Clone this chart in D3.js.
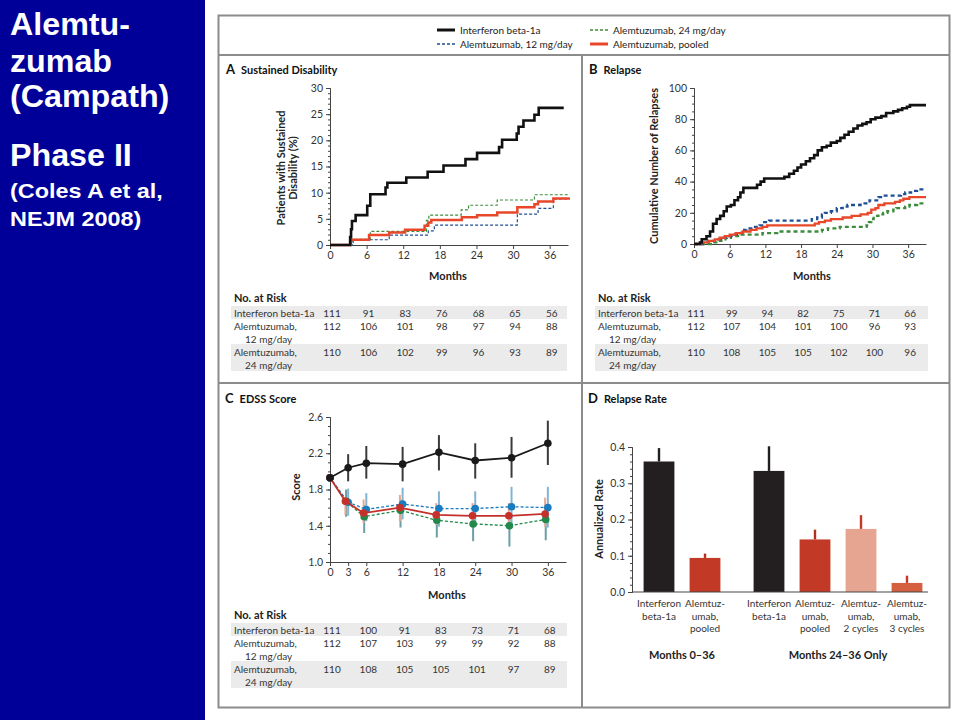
<!DOCTYPE html>
<html>
<head>
<meta charset="utf-8">
<script src="https://cdn.jsdelivr.net/npm/d3@7"></script>
<style>
body { margin: 0; background: #fff; }
svg { display: block; }
</style>
</head>
<body>
<div id="vis"></div>
<script>
// ---------- data ----------
const SERIES_NAMES = ["Interferon beta-1a", "Alemtuzumab, 12 mg/day", "Alemtuzumab, 24 mg/day", "Alemtuzumab, pooled"];
const MONTH_TICKS = [0, 6, 12, 18, 24, 30, 36];

// A: sustained disability, Kaplan-Meier steps [month, %]
const DIS_IFN = [[0,0],[3.3,1.5],[3.45,3.0],[3.6,4.6],[4.2,5.7],[6.1,7.5],[6.6,9.7],[9.1,11.0],[9.4,11.9],[12.5,12.9],[16.0,14.0],[18.6,15.2],[22.2,16.4],[24.1,17.6],[27.7,18.7],[28.2,20.1],[30.6,21.3],[30.9,22.6],[31.7,23.8],[33.5,24.9],[34.2,26.2],[38.3,26.2]];
const DIS_12 = [[0,0],[3.8,1.0],[9.7,1.9],[16.1,2.7],[17.1,3.8],[30.7,5.9],[34.1,7.0],[36.6,8.8],[39.3,8.8]];
const DIS_24 = [[0,0],[3.6,1.1],[6.6,2.6],[15.8,4.7],[16.2,5.7],[21.5,6.7],[22.7,7.6],[27.4,8.6],[33.5,9.6],[39.3,9.6]];
const DIS_POOLED = [[0,0],[3.4,1.0],[6.4,1.9],[9.7,2.4],[12.3,2.9],[15.5,3.7],[16.1,4.3],[16.6,4.8],[21.6,5.3],[24.1,5.7],[27.4,6.2],[30.7,7.2],[33.5,7.8],[34.1,8.3],[36.6,8.9],[39.3,8.9]];

// B: cumulative number of relapses [month, count]
const REL_IFN = [[0,0],[1.0,1],[1.3,3],[2.1,5],[2.7,8],[3.2,13],[3.8,16],[4.4,18],[5.0,21],[5.5,24],[6.2,25],[6.8,28],[7.4,30],[7.8,33],[8.3,36],[10.6,38],[11.2,40],[11.8,42],[15.2,43],[16.0,45],[16.8,47],[17.4,49],[18.0,51],[18.8,53],[19.5,55],[20.2,57],[20.8,60],[21.5,62],[22.3,63],[23.0,65],[24.0,66],[24.6,68],[25.3,70],[26.0,72],[26.8,74],[27.5,76],[28.3,77],[29.0,78],[29.7,80],[30.5,81],[31.5,82],[32.3,84],[33.5,85],[34.3,86],[35.0,87],[35.8,88],[36.3,89],[39.0,89]];
const REL_12 = [[0,0],[1.5,1],[2.5,2],[3.5,3],[4.5,4],[5.5,5],[6.3,6],[7.2,7],[8.0,9],[8.8,10],[10.0,11],[11.0,12],[11.8,14],[12.6,15],[19.8,16],[20.7,17],[21.5,19],[22.0,20],[23.0,21],[24.0,23],[25.0,24],[25.8,25],[28.0,26],[29.5,28],[31.0,30],[31.8,31],[34.8,32],[35.5,33],[36.5,34],[37.5,35],[39.0,35]];
const REL_24 = [[0,0],[3.4,1],[4.0,2],[4.6,3],[5.3,4],[6.2,5],[7.8,6],[11.5,7],[14.0,8],[21.5,9],[22.5,10],[24.5,11],[29.0,12],[29.4,14],[29.8,16],[30.2,18],[31.0,19],[31.8,20],[32.5,21],[33.5,22],[34.0,23],[35.5,24],[36.2,25],[37.5,26],[39.0,26]];
const REL_POOLED = [[0,0],[1.2,1],[2.5,2],[3.5,3],[4.3,4],[5.2,5],[6.0,6],[7.0,7],[8.2,8],[9.5,9],[10.5,10],[11.5,11],[12.3,12],[20.3,13],[21.0,14],[22.0,15],[23.0,16],[25.0,17],[26.5,18],[28.0,19],[29.2,20],[29.8,22],[30.5,23],[31.0,25],[32.0,26],[33.8,27],[34.6,28],[35.2,29],[36.2,30],[39.0,30]];

// numbers at risk
const RISK_LABELS = [["Interferon beta-1a"], ["Alemtuzumab,", "12 mg/day"], ["Alemtuzumab,", "24 mg/day"]];
const RISK_A_IFN = [111, 91, 83, 76, 68, 65, 56];
const RISK_A_12 = [112, 106, 101, 98, 97, 94, 88];
const RISK_A_24 = [110, 106, 102, 99, 96, 93, 89];
const RISK_B_IFN = [111, 99, 94, 82, 75, 71, 66];
const RISK_B_12 = [112, 107, 104, 101, 100, 96, 93];
const RISK_B_24 = [110, 108, 105, 105, 102, 100, 96];
const RISK_C_IFN = [111, 100, 91, 83, 73, 71, 68];
const RISK_C_12 = [112, 107, 103, 99, 99, 92, 88];
const RISK_C_24 = [110, 108, 105, 105, 101, 97, 89];

// C: EDSS score, mean with error bars
const EDSS_MONTHS = [0, 3, 6, 12, 18, 24, 30, 36];
const EDSS_TICKS = [0, 3, 6, 12, 18, 24, 30, 36];
const EDSS_IFN = [1.93, 2.04, 2.09, 2.08, 2.21, 2.12, 2.15, 2.31];
const EDSS_IFN_LO = [null, 1.89, 1.92, 1.89, 2.01, 1.92, 1.93, 2.07];
const EDSS_IFN_HI = [null, 2.19, 2.28, 2.27, 2.40, 2.31, 2.38, 2.56];
const EDSS_12 = [1.93, 1.66, 1.58, 1.64, 1.59, 1.59, 1.61, 1.60];
const EDSS_12_LO = [null, 1.51, 1.45, 1.47, 1.39, 1.39, 1.40, 1.38];
const EDSS_12_HI = [null, 1.81, 1.76, 1.82, 1.78, 1.78, 1.83, 1.83];
const EDSS_24 = [1.93, 1.67, 1.50, 1.57, 1.46, 1.42, 1.40, 1.47];
const EDSS_24_LO = [null, 1.50, 1.32, 1.38, 1.27, 1.23, 1.17, 1.24];
const EDSS_24_HI = [null, 1.80, 1.63, 1.69, 1.54, 1.50, 1.50, 1.56];
const EDSS_POOLED = [1.93, 1.67, 1.54, 1.60, 1.52, 1.51, 1.51, 1.53];
const EDSS_POOLED_LO = [null, 1.52, 1.43, 1.45, 1.41, 1.41, 1.41, 1.39];
const EDSS_POOLED_HI = [null, 1.72, 1.69, 1.74, 1.65, 1.65, 1.65, 1.71];

// D: annualized relapse rate
const BAR_KEYS = ["ifn0", "pooled0", "ifn24", "pooled24", "cyc2", "cyc3"];
const BAR_LABELS = [["Interferon", "beta-1a"], ["Alemtuz-", "umab,", "pooled"], ["Interferon", "beta-1a"], ["Alemtuz-", "umab,", "pooled"], ["Alemtuz-", "umab,", "2 cycles"], ["Alemtuz-", "umab,", "3 cycles"]];
const BAR_GROUPS = ["Months 0\u201336", "Months 0\u201336", "Months 24\u201336 Only", "Months 24\u201336 Only", "Months 24\u201336 Only", "Months 24\u201336 Only"];
const BAR_RATES = [0.36, 0.094, 0.334, 0.145, 0.174, 0.025];
const BAR_UPPER = [0.397, 0.106, 0.402, 0.172, 0.212, 0.045];
const RATE_TICKS = [0.0, 0.1, 0.2, 0.3, 0.4];

// sidebar text
const SIDE_BIG = ["Alemtu-", "zumab", "(Campath)", "Phase II"];
const SIDE_SMALL = ["(Coles A et al,", "NEJM 2008)"];

// ---------- styles ----------
const FONT = "Lato, 'Open Sans', sans-serif";
const C_IFN = "#111111", C_12 = "#1f4f94", C_24 = "#3c8c3c", C_POOL = "#e8472a";
const GRID = "#8c8c8c";

const SVG = d3.select("#vis").append("svg")
    .attr("width", 960)
    .attr("height", 720)
    .attr("font-family", FONT);

// sidebar
SVG.append("rect").attr("x", 0).attr("y", 0).attr("width", 205).attr("height", 720).attr("fill", "#000099");
SVG.selectAll("text.big").data(SIDE_BIG).enter().append("text")
    .attr("transform", (d, i) => "translate(10," + [35, 72, 107, 166][i] + ") scale(1.04,1)")
    .attr("fill", "#fff").attr("font-family", "'Liberation Sans', Arial, sans-serif")
    .attr("font-weight", "bold").attr("font-size", "31px").text(d => d);
SVG.selectAll("text.small").data(SIDE_SMALL).enter().append("text")
    .attr("transform", (d, i) => "translate(10," + [198, 226][i] + ") scale(1.2,1)")
    .attr("fill", "#fff").attr("font-family", "'Liberation Sans', Arial, sans-serif")
    .attr("font-weight", "bold").attr("font-size", "19.5px").text(d => d);

// figure frame
SVG.append("rect").attr("x", 218.5).attr("y", 15.5).attr("width", 731).attr("height", 692)
    .attr("fill", "#fff").attr("stroke", GRID).attr("stroke-width", 2);
SVG.append("line").attr("x1", 218).attr("x2", 950).attr("y1", 55).attr("y2", 55).attr("stroke", GRID).attr("stroke-width", 2);
SVG.append("line").attr("x1", 218).attr("x2", 950).attr("y1", 383).attr("y2", 383).attr("stroke", GRID).attr("stroke-width", 2);
SVG.append("line").attr("x1", 582).attr("x2", 582).attr("y1", 55).attr("y2", 708).attr("stroke", GRID).attr("stroke-width", 2);

// legend
const LEG = [
    { name: SERIES_NAMES[0], x: 437, y: 30, color: C_IFN, w: 3, dash: null },
    { name: SERIES_NAMES[1], x: 437, y: 44, color: C_12, w: 1.3, dash: "3,2" },
    { name: SERIES_NAMES[2], x: 590, y: 30, color: C_24, w: 1.3, dash: "3,2" },
    { name: SERIES_NAMES[3], x: 590, y: 44, color: C_POOL, w: 3, dash: null }
];
LEG.forEach(l => {
    SVG.append("line").attr("x1", l.x).attr("x2", l.x + 18).attr("y1", l.y).attr("y2", l.y)
        .attr("stroke", l.color).attr("stroke-width", l.w).attr("stroke-dasharray", l.dash);
    SVG.append("text").attr("x", l.x + 23).attr("y", l.y + 3.5).attr("font-size", "10px")
        .attr("fill", "#222").text(l.name);
});

function panelTitle(x, y, letter, title) {
    const t = SVG.append("text").attr("x", x).attr("y", y).attr("fill", "#111");
    t.append("tspan").attr("font-size", "13px").attr("font-weight", "bold").text(letter);
    t.append("tspan").attr("dx", 6).attr("font-size", "11px").attr("font-weight", "bold").text(title);
}

function styleAxis(g) {
    g.selectAll("path").attr("stroke", "#444");
    g.selectAll("line").attr("stroke", "#444");
    g.selectAll("text").attr("font-family", FONT).attr("font-size", "10.5px").attr("fill", "#333");
}

function yLabel(x, y, lines) {
    const t = SVG.append("text").attr("transform", "translate(" + x + "," + y + ") rotate(-90)")
        .attr("text-anchor", "middle").attr("font-size", "11px").attr("font-weight", "bold").attr("fill", "#222");
    lines.forEach((l, i) => t.append("tspan").attr("x", 0).attr("dy", i === 0 ? 0 : 12).text(l));
}

function xLabel(x, y) {
    SVG.append("text").attr("x", x).attr("y", y).attr("text-anchor", "middle")
        .attr("font-size", "11px").attr("font-weight", "bold").attr("fill", "#222").text("Months");
}

// Kaplan-Meier style step panel
function makeStepPanel(cfg) {
    const X = d3.scaleLinear().domain([0, 39]).range(cfg.xRange);
    const Y = d3.scaleLinear().domain(cfg.yDomain).range(cfg.yRange);

    const minor = SVG.append("g").attr("transform", "translate(" + cfg.xRange[0] + ",0)")
        .call(d3.axisLeft(Y).tickValues(d3.range(cfg.yDomain[0], cfg.yDomain[1] + 0.001, cfg.minorStep))
            .tickSize(2).tickFormat(""));
    styleAxis(minor);
    const yAx = SVG.append("g").attr("transform", "translate(" + cfg.xRange[0] + ",0)")
        .call(d3.axisLeft(Y).tickValues(cfg.yTicks).tickSize(4).tickSizeOuter(0));
    styleAxis(yAx);
    const xAx = SVG.append("g").attr("transform", "translate(0," + cfg.yRange[0] + ")")
        .call(d3.axisBottom(X).tickValues(MONTH_TICKS).tickSize(4).tickSizeOuter(0));
    styleAxis(xAx);

    const LINE = d3.line().x(d => X(d[0])).y(d => Y(d[1])).curve(d3.curveStepAfter);
    cfg.series.forEach(s => {
        SVG.append("path").datum(s.data).attr("d", LINE)
            .attr("fill", "none").attr("stroke", s.color).attr("stroke-width", s.w)
            .attr("stroke-dasharray", s.dash).attr("stroke-linejoin", "miter");
    });
    return X;
}

function makeRiskTable(X, left, top, right, rows) {
    SVG.append("rect").attr("x", left - 3).attr("y", top + 4).attr("width", right - left + 3).attr("height", 13).attr("fill", "#ebebeb");
    SVG.append("rect").attr("x", left - 3).attr("y", top + 42).attr("width", right - left + 3).attr("height", 27).attr("fill", "#ebebeb");
    SVG.append("text").attr("x", left).attr("y", top).attr("font-size", "11px").attr("font-weight", "bold")
        .attr("fill", "#222").text("No. at Risk");
    const rowY = [top + 15, top + 28, top + 54];
    rows.forEach((vals, r) => {
        RISK_LABELS[r].forEach((l, k) => {
            SVG.append("text").attr("x", left + (k ? 11 : 0)).attr("y", rowY[r] + k * 13)
                .attr("font-size", "10px").attr("fill", "#333").text(l);
        });
        SVG.selectAll(null).data(vals).enter().append("text")
            .attr("x", (d, i) => X(MONTH_TICKS[i]) + 2).attr("y", rowY[r])
            .attr("text-anchor", "middle").attr("font-size", "10px").attr("fill", "#333").text(d => d);
    });
}

// ---------- Panel A ----------
function make_panel_a() {
    panelTitle(226, 74, "A", "Sustained Disability");
    const X = makeStepPanel({
        xRange: [330, 568], yDomain: [0, 30], yRange: [245, 88], yTicks: [0, 5, 10, 15, 20, 25, 30], minorStep: 1,
        series: [
            { data: DIS_24, color: C_24, w: 1.2, dash: "3,2" },
            { data: DIS_12, color: C_12, w: 1.2, dash: "3,2" },
            { data: DIS_POOLED, color: C_POOL, w: 2.5, dash: null },
            { data: DIS_IFN, color: C_IFN, w: 2.6, dash: null }
        ]
    });
    yLabel(285, 168, ["Patients with Sustained", "Disability (%)"]);
    xLabel(448, 280);
    makeRiskTable(X, 234, 302, 567, [RISK_A_IFN, RISK_A_12, RISK_A_24]);
}

// ---------- Panel B ----------
function make_panel_b() {
    panelTitle(589, 74, "B", "Relapse");
    const X = makeStepPanel({
        xRange: [694, 926], yDomain: [0, 100], yRange: [244, 88], yTicks: [0, 20, 40, 60, 80, 100], minorStep: 5,
        series: [
            { data: REL_24, color: C_24, w: 2.3, dash: "4,3" },
            { data: REL_12, color: C_12, w: 2.3, dash: "4,3" },
            { data: REL_POOLED, color: C_POOL, w: 2.3, dash: null },
            { data: REL_IFN, color: C_IFN, w: 2.6, dash: null }
        ]
    });
    yLabel(658, 166, ["Cumulative Number of Relapses"]);
    xLabel(812, 280);
    makeRiskTable(X, 598, 302, 928, [RISK_B_IFN, RISK_B_12, RISK_B_24]);
}

// ---------- Panel C ----------
function make_panel_c() {
    panelTitle(225, 403, "C", "EDSS Score");
    const X = d3.scaleLinear().domain([0, 39]).range([330, 566]);
    const Y = d3.scaleLinear().domain([1.0, 2.6]).range([562, 417]);

    const minor = SVG.append("g").attr("transform", "translate(330,0)")
        .call(d3.axisLeft(Y).tickValues(d3.range(1.0, 2.61, 0.1)).tickSize(2).tickFormat(""));
    styleAxis(minor);
    const yAx = SVG.append("g").attr("transform", "translate(330,0)")
        .call(d3.axisLeft(Y).tickValues([1.0, 1.4, 1.8, 2.2, 2.6]).tickFormat(d3.format(".1f")).tickSize(4).tickSizeOuter(0));
    styleAxis(yAx);
    const xAx = SVG.append("g").attr("transform", "translate(0,562)")
        .call(d3.axisBottom(X).tickValues(EDSS_TICKS).tickSize(4).tickSizeOuter(0));
    styleAxis(xAx);

    const SERIES = [
        { mean: EDSS_24, lo: EDSS_24_LO, hi: EDSS_24_HI, color: "#23894a", err: "#6b9fa6", dash: "3,2", off: -0.35 },
        { mean: EDSS_12, lo: EDSS_12_LO, hi: EDSS_12_HI, color: "#1a7cc0", err: "#82b4d4", dash: "3,2", off: 0 },
        { mean: EDSS_POOLED, lo: EDSS_POOLED_LO, hi: EDSS_POOLED_HI, color: "#c4312b", err: "#eca690", dash: null, off: -0.45 },
        { mean: EDSS_IFN, lo: EDSS_IFN_LO, hi: EDSS_IFN_HI, color: "#1a1a1a", err: "#3a3a3a", dash: null, off: 0 }
    ];
    // error bars first
    SERIES.forEach(s => {
        const pts = EDSS_MONTHS.map((m, i) => ({ m: m === 0 ? 0 : m + s.off, lo: s.lo[i], hi: s.hi[i] })).filter(d => d.lo !== null);
        SVG.selectAll(null).data(pts).enter().append("line")
            .attr("x1", d => X(d.m)).attr("x2", d => X(d.m))
            .attr("y1", d => Y(d.lo)).attr("y2", d => Y(d.hi))
            .attr("stroke", s.err).attr("stroke-width", 2);
    });
    const LINE = d3.line().x(d => X(d.m)).y(d => Y(d.v));
    SERIES.forEach(s => {
        const pts = EDSS_MONTHS.map((m, i) => ({ m: m === 0 ? 0 : m + s.off, v: s.mean[i] }));
        SVG.append("path").datum(pts).attr("d", LINE).attr("fill", "none")
            .attr("stroke", s.color).attr("stroke-width", s.dash ? 1.3 : 1.8).attr("stroke-dasharray", s.dash);
        SVG.selectAll(null).data(pts).enter().append("circle")
            .attr("cx", d => X(d.m)).attr("cy", d => Y(d.v)).attr("r", 3.8).attr("fill", s.color);
    });
    yLabel(300, 487, ["Score"]);
    xLabel(447, 599);
    makeRiskTable(X, 234, 619, 567, [RISK_C_IFN, RISK_C_12, RISK_C_24]);
}

// ---------- Panel D ----------
function make_panel_d() {
    panelTitle(588, 403, "D", "Relapse Rate");
    const Y = d3.scaleLinear().domain([0, 0.4]).range([592, 447]);
    const XB = d3.scaleBand().domain(BAR_KEYS).range([636, 912]).paddingInner(0.33).paddingOuter(0.165);
    const GROUP_SHIFT = d3.scaleOrdinal().domain(["Months 0\u201336", "Months 24\u201336 Only"]).range([0, 18]);
    const FILL = d3.scaleOrdinal().domain(BAR_KEYS).range(["#231f20", "#c23a26", "#231f20", "#c23a26", "#e6a591", "#d4603f"]);
    const ERR = d3.scaleOrdinal().domain(BAR_KEYS).range(["#231f20", "#b2301e", "#231f20", "#b2301e", "#c23a26", "#c23a26"]);
    const cx = i => XB(BAR_KEYS[i]) + XB.bandwidth() / 2 + GROUP_SHIFT(BAR_GROUPS[i]);

    const minor = SVG.append("g").attr("transform", "translate(632,0)")
        .call(d3.axisLeft(Y).tickValues(d3.range(0, 0.401, 0.02)).tickSize(2).tickFormat(""));
    styleAxis(minor);
    const yAx = SVG.append("g").attr("transform", "translate(632,0)")
        .call(d3.axisLeft(Y).tickValues(RATE_TICKS).tickFormat(d3.format(".1f")).tickSize(4).tickSizeOuter(0));
    styleAxis(yAx);

    const bars = BAR_KEYS.map((k, i) => ({ k: k, i: i, v: BAR_RATES[i], up: BAR_UPPER[i] }));
    SVG.selectAll(null).data(bars).enter().append("line")
        .attr("x1", d => cx(d.i)).attr("x2", d => cx(d.i))
        .attr("y1", d => Y(d.v)).attr("y2", d => Y(d.up))
        .attr("stroke", d => ERR(d.k)).attr("stroke-width", 2.4);
    SVG.selectAll(null).data(bars).enter().append("rect")
        .attr("x", d => cx(d.i) - XB.bandwidth() / 2).attr("y", d => Y(d.v))
        .attr("width", XB.bandwidth()).attr("height", d => Y(0) - Y(d.v))
        .attr("fill", d => FILL(d.k));

    SVG.append("line").attr("x1", 632).attr("x2", 928).attr("y1", 592).attr("y2", 592).attr("stroke", "#444");

    bars.forEach(d => {
        BAR_LABELS[d.i].forEach((l, k) => {
            SVG.append("text").attr("x", cx(d.i)).attr("y", 607 + k * 12.5).attr("text-anchor", "middle")
                .attr("font-size", "10px").attr("fill", "#333").text(l);
        });
    });
    const groups = Array.from(new Set(BAR_GROUPS));
    groups.forEach(g => {
        const idx = BAR_GROUPS.map((b, i) => b === g ? i : -1).filter(i => i >= 0);
        const mid = (cx(idx[0]) + cx(idx[idx.length - 1])) / 2;
        SVG.append("text").attr("x", mid).attr("y", 659).attr("text-anchor", "middle")
            .attr("font-size", "11px").attr("font-weight", "bold").attr("fill", "#222").text(g);
    });
    yLabel(603, 519, ["Annualized Rate"]);
}

make_panel_a();
make_panel_b();
make_panel_c();
make_panel_d();
</script>
</body>
</html>
